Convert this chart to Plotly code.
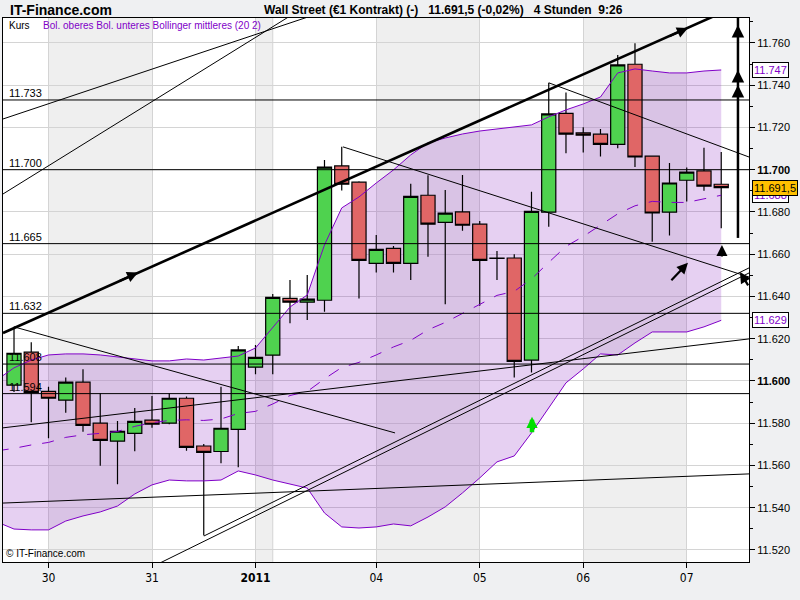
import plotly.graph_objects as go

# ---------------- data ----------------
candle_x = list(range(42))
open_ = [11.5980, 11.6136, 11.5951, 11.5909, 11.5994, 11.5800, 11.5715, 11.5752, 11.5815, 11.5800,
         11.5918, 11.5692, 11.5666, 11.5771, 11.6065, 11.6122, 11.6391, 11.6373, 11.6382, 11.7018,
         11.6941, 11.6557, 11.6628, 11.6557, 11.6879, 11.6751, 11.6800, 11.6742, 11.6582, 11.6582,
         11.6099, 11.6799, 11.7267, 11.7174, 11.7168, 11.7120, 11.7499, 11.7064, 11.6799, 11.6950,
         11.6994, 11.6931]
high = [11.6256, 11.6183, 11.5973, 11.6016, 11.6055, 11.5942, 11.5811, 11.5872, 11.5929, 11.5942,
        11.5926, 11.5702, 11.5973, 11.6166, 11.6170, 11.6412, 11.6478, 11.6502, 11.7046, 11.7108,
        11.6945, 11.6691, 11.6639, 11.6933, 11.6974, 11.6904, 11.6975, 11.6757, 11.6615, 11.6600,
        11.6896, 11.7411, 11.7365, 11.7201, 11.7193, 11.7543, 11.7599, 11.7066, 11.7032, 11.7010,
        11.7104, 11.7084]
low = [11.5948, 11.5804, 11.5729, 11.5850, 11.5760, 11.5599, 11.5511, 11.5667, 11.5779, 11.5795,
       11.5670, 11.5268, 11.5610, 11.5591, 11.6032, 11.6032, 11.6273, 11.6289, 11.6328, 11.6902,
       11.6390, 11.6513, 11.6513, 11.6478, 11.6588, 11.6363, 11.6711, 11.6356, 11.6478, 11.6016,
       11.6040, 11.6730, 11.7078, 11.7081, 11.7062, 11.7102, 11.7013, 11.6659, 11.6688, 11.6849,
       11.6900, 11.6723]
close = [11.6131, 11.5946, 11.5918, 11.5994, 11.5790, 11.5719, 11.5762, 11.5809, 11.5795, 11.5918,
         11.5686, 11.5662, 11.5776, 11.6147, 11.6112, 11.6396, 11.6373, 11.6387, 11.7012, 11.6931,
         11.6571, 11.6623, 11.6557, 11.6874, 11.6742, 11.6794, 11.6737, 11.6571, 11.6580, 11.6093,
         11.6803, 11.7264, 11.7168, 11.7163, 11.7120, 11.7496, 11.7060, 11.6795, 11.6937, 11.6988,
         11.6922, 11.6915]

band_x = list(range(-1, 42))
boll_upper = [11.6005, 11.6062, 11.6099, 11.6123, 11.6128, 11.6128, 11.6123, 11.6114, 11.6104, 11.6095,
              11.6095, 11.6104, 11.6099, 11.6109, 11.6118, 11.6156, 11.6251, 11.6350, 11.6407, 11.6644,
              11.6819, 11.6871, 11.6937, 11.6999, 11.7070, 11.7127, 11.7150, 11.7169, 11.7183, 11.7193,
              11.7202, 11.7212, 11.7250, 11.7283, 11.7311, 11.7344, 11.7458, 11.7477, 11.7467, 11.7458,
              11.7458, 11.7467, 11.7472]
boll_lower = [11.5333, 11.5299, 11.5295, 11.5295, 11.5337, 11.5361, 11.5380, 11.5408, 11.5465, 11.5508,
              11.5531, 11.5527, 11.5527, 11.5531, 11.5574, 11.5555, 11.5531, 11.5512, 11.5493, 11.5375,
              11.5309, 11.5304, 11.5309, 11.5323, 11.5314, 11.5356, 11.5404, 11.5470, 11.5541, 11.5617,
              11.5645, 11.5754, 11.5872, 11.5991, 11.6057, 11.6128, 11.6123, 11.6180, 11.6232, 11.6232,
              11.6232, 11.6256, 11.6287]
boll_mid = [11.5669, 11.5681, 11.5697, 11.5709, 11.5733, 11.5745, 11.5752, 11.5761, 11.5785, 11.5802,
            11.5813, 11.5816, 11.5813, 11.5820, 11.5846, 11.5856, 11.5891, 11.5931, 11.5950, 11.6010,
            11.6064, 11.6088, 11.6123, 11.6161, 11.6192, 11.6242, 11.6277, 11.6320, 11.6362, 11.6405,
            11.6424, 11.6483, 11.6561, 11.6637, 11.6684, 11.6736, 11.6791, 11.6829, 11.6850, 11.6845,
            11.6845, 11.6862, 11.6879]

day_tick_pos = [2, 8, 14, 21, 27, 33, 39]
day_tick_text = ["30", "31", "<b>2011</b>", "04", "05", "06", "07"]
shaded_days = [(2, 8), (14, 15), (21, 27), (33, 39)]
year_break = 14
extra_day_line = 15

price_ticks = [11.52, 11.54, 11.56, 11.58, 11.60, 11.62, 11.64, 11.66, 11.68, 11.70, 11.72, 11.74, 11.76]
bold_ticks = [11.60, 11.70]

h_levels = [11.733, 11.700, 11.665, 11.632, 11.608, 11.594]

# trend lines: (x0, price0, x1, price1)
trend_thin = [
    (-0.638, 11.7240, 17.74, 11.7742),
    (-0.638, 11.6885, 16.29, 11.7742),
    (0.0, 11.6256, 22.09, 11.5754),
    (19.07, 11.7108, 42.61, 11.6492),
    (31.01, 11.7411, 42.61, 11.7060),
    (11.01, 11.5266, 42.61, 11.6535),
    (7.88, 11.5115, 42.61, 11.6511),
    (-0.638, 11.5778, 42.61, 11.6199),
    (-0.638, 11.5422, 42.61, 11.5560),
]
trend_thick = [(-0.638, 11.6227, 40.75, 11.7733)]
vertical_arrow = (41.97, 11.6677, 11.7733)
vertical_arrow_heads = [11.7685, 11.7472, 11.7401]
# arrows: tip x, tip price, tail dx px, tail dy px
black_arrows = [
    (7.19, 11.6513, -20, 9),
    (39.07, 11.7671, -20, 9),
    (39.07, 11.6559, -18, 19),
    (42.09, 11.6516, 9, 15),
    (41.04, 11.6644, 0, 13),
]
green_arrows = [(30.03, 11.5830, 0, 17)]

# ---------------- figure ----------------
fig = go.Figure()

FILL = "rgba(130,20,190,0.20)"
PURPLE = "#8000c8"

fig.add_trace(go.Candlestick(
    x=candle_x, open=open_, high=high, low=low, close=close,
    increasing=dict(fillcolor="#4fd24f", line=dict(color="black", width=1.2)),
    decreasing=dict(fillcolor="#e06666", line=dict(color="black", width=1.2)),
    whiskerwidth=0, hoverinfo="skip"))

fig.add_trace(go.Scatter(x=band_x, y=boll_upper, mode="lines", line=dict(width=1, color=PURPLE),
                         hoverinfo="skip"))
fig.add_trace(go.Scatter(x=band_x, y=boll_lower, mode="lines", line=dict(width=1, color=PURPLE),
                         hoverinfo="skip"))
fig.add_trace(go.Scatter(x=band_x, y=boll_mid, mode="lines",
                         line=dict(width=1, color=PURPLE, dash="12px,11px"), hoverinfo="skip"))

shapes = []
for a, b in shaded_days:
    shapes.append(dict(type="rect", xref="x", yref="paper", x0=a, x1=b, y0=0, y1=1,
                       fillcolor="#efefef", line=dict(width=0), layer="below"))
shapes.append(dict(type="line", xref="x", yref="paper", x0=year_break, x1=year_break, y0=0, y1=1,
                   line=dict(color="#9a9a9a", width=1), layer="below"))
shapes.append(dict(type="line", xref="x", yref="paper", x0=extra_day_line, x1=extra_day_line, y0=0, y1=1,
                   line=dict(color="#d4d4d4", width=1), layer="below"))

# Bollinger band fill (below candles), built from the band arrays
pts = [f"{x},{y}" for x, y in zip(band_x, boll_upper)]
pts += [f"{x},{y}" for x, y in zip(band_x[::-1], boll_lower[::-1])]
band_path = "M" + " L".join(pts) + " Z"
shapes.append(dict(type="path", xref="x", yref="y", path=band_path, fillcolor=FILL,
                   line=dict(width=0), layer="between"))

for lv in h_levels:
    shapes.append(dict(type="line", xref="paper", yref="y", x0=0, x1=1, y0=lv, y1=lv,
                       line=dict(color="black", width=1), layer="above"))
for x0, p0, x1, p1 in trend_thin:
    shapes.append(dict(type="line", xref="x", yref="y", x0=x0, y0=p0, x1=x1, y1=p1,
                       line=dict(color="black", width=1), layer="above"))
for x0, p0, x1, p1 in trend_thick:
    shapes.append(dict(type="line", xref="x", yref="y", x0=x0, y0=p0, x1=x1, y1=p1,
                       line=dict(color="black", width=2.6), layer="above"))
vx, vy0, vy1 = vertical_arrow
shapes.append(dict(type="line", xref="x", yref="y", x0=vx, x1=vx, y0=vy0, y1=vy1,
                   line=dict(color="black", width=2.5), layer="above"))

annotations = []
for lv in h_levels:
    annotations.append(dict(xref="paper", yref="y", x=0, y=lv, xanchor="left", yanchor="bottom",
                            xshift=4, yshift=-1, text=f"{lv:.3f}", showarrow=False,
                            font=dict(size=11, color="black")))
for p in vertical_arrow_heads:
    annotations.append(dict(xref="x", yref="y", x=vx, y=p, ax=0, ay=10, text="", showarrow=True,
                            arrowhead=2, arrowsize=1, arrowwidth=2.5, arrowcolor="black"))
for tx, tp, dx, dy in black_arrows:
    annotations.append(dict(xref="x", yref="y", x=tx, y=tp, ax=dx, ay=dy, text="", showarrow=True,
                            arrowhead=2, arrowsize=1, arrowwidth=2.2, arrowcolor="black"))
for tx, tp, dx, dy in green_arrows:
    annotations.append(dict(xref="x", yref="y", x=tx, y=tp, ax=dx, ay=dy, text="", showarrow=True,
                            arrowhead=2, arrowsize=0.5, arrowwidth=4.5, arrowcolor="#00e000"))

# right-side value boxes
def box(val_text, price, fg, bg):
    return dict(xref="paper", yref="y", x=1, y=price, xanchor="left", yanchor="middle", xshift=3,
                text=val_text, showarrow=False, font=dict(size=11, color=fg),
                bgcolor=bg, bordercolor="black", borderwidth=1, borderpad=1)

annotations.append(box(f"{boll_upper[-1]:.3f}", boll_upper[-1], PURPLE, "white"))
annotations.append(box(f"{boll_lower[-1]:.3f}", boll_lower[-1], PURPLE, "white"))
annotations.append(box(f"{boll_mid[-1]:.3f}", boll_mid[-1], PURPLE, "white"))
last = f"{close[-1]:.4f}"
annotations.append(box(last[:-1] + "," + last[-1], close[-1], "black", "#ffc000"))

# titles
annotations.append(dict(xref="paper", yref="paper", x=0.0067, y=1.0147, xanchor="left", yanchor="middle",
                        text="<b>IT-Finance.com</b>", showarrow=False, font=dict(size=14, color="black")))
annotations.append(dict(xref="paper", yref="paper", x=0.347, y=1.0147, xanchor="left", yanchor="middle",
                        text="<b>Wall Street (€1 Kontrakt) (-)   11.691,5 (-0,02%)   4 Stunden  9:26</b>",
                        showarrow=False, font=dict(size=12, color="black")))
annotations.append(dict(xref="paper", yref="paper", x=0.0054, y=0.9853, xanchor="left", yanchor="middle",
                        text="Kurs", showarrow=False, font=dict(size=10, color="black")))
annotations.append(dict(xref="paper", yref="paper", x=0.0509, y=0.9853, xanchor="left", yanchor="middle",
                        text="Bol. oberes Bol. unteres Bollinger mittleres (20 2)", showarrow=False,
                        font=dict(size=10, color=PURPLE)))
annotations.append(dict(xref="paper", yref="paper", x=0.002, y=0.0165, xanchor="left", yanchor="middle",
                        text="© IT-Finance.com", showarrow=False, font=dict(size=10, color="black")))

price_tick_text = [f"<b>{v:.3f}</b>" if v in bold_ticks else f"{v:.3f}" for v in price_ticks]

fig.update_layout(
    width=800, height=600,
    margin=dict(l=3, r=51, t=18, b=38),
    paper_bgcolor="#eff0f2", plot_bgcolor="white",
    showlegend=False, boxgap=0.18, boxgroupgap=0,
    font=dict(family="Liberation Sans, Arial, sans-serif", size=11, color="black"),
    shapes=shapes, annotations=annotations,
)
fig.update_xaxes(range=[-0.638, 42.61], tickvals=day_tick_pos, ticktext=day_tick_text,
                 showgrid=True, gridcolor="#d4d4d4", gridwidth=1, zeroline=False,
                 showline=True, mirror=True, linecolor="black", linewidth=1,
                 ticks="outside", ticklen=5, tickcolor="black",
                 rangeslider_visible=False,
                 tickfont=dict(family="DejaVu Sans Condensed, Liberation Sans Narrow, sans-serif", size=12))
fig.update_yaxes(side="right", range=[11.5143, 11.7718], tickvals=price_ticks, ticktext=price_tick_text,
                 showgrid=True, gridcolor="#d4d4d4", gridwidth=1, zeroline=False,
                 showline=True, mirror=True, linecolor="black", linewidth=1,
                 ticks="outside", ticklen=5, tickcolor="black",
                 minor=dict(dtick=0.01, tick0=11.51, ticks="outside", ticklen=3, tickcolor="black", showgrid=False),
                 tickfont=dict(size=11))

fig.write_html("out.html", config={"displayModeBar": False},
               post_script="document.body.style.margin='0';document.body.style.overflow='hidden';")
